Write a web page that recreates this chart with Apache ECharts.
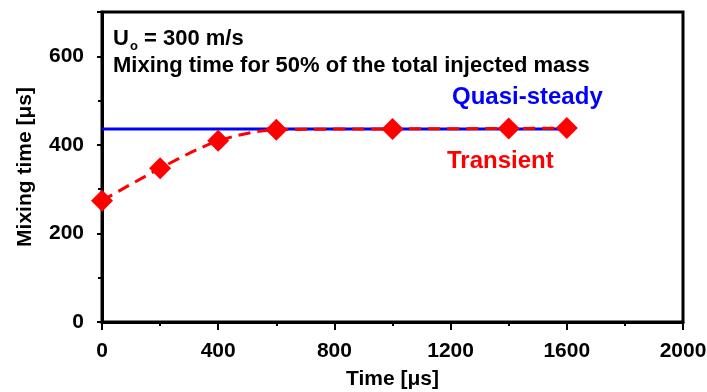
<!DOCTYPE html>
<html>
<head>
<meta charset="utf-8">
<script src="https://cdn.jsdelivr.net/npm/echarts@6/dist/echarts.min.js"></script>
<style>
  html, body { margin: 0; padding: 0; background: #fff; }
  #chart { width: 707px; height: 392px; }
</style>
</head>
<body>
<div id="chart"></div>
<script>
// Injection time samples [μs] and the mixing time reached at each one [μs]
const injectionTime = [0, 200, 400, 600, 1000, 1400, 1600];
const transientMixing = [274, 347, 409, 434, 436, 437, 438];

// Quasi-steady reference level, drawn across the same time span
const quasiSteadyTime = [0, 1600];
const quasiSteadyMixing = [436, 436];

// Axis ranges and tick steps
const xRange = [0, 2000];
const xStep = 400;
const yRange = [0, 700];
const yStep = 200;

const FONT = '"Liberation Sans", Arial, sans-serif';

const transientData = injectionTime.map((t, i) => [t, transientMixing[i]]);
const quasiData = quasiSteadyTime.map((t, i) => [t, quasiSteadyMixing[i]]);

const chart = echarts.init(document.getElementById('chart'), null, { renderer: 'canvas' });

chart.setOption({
  animation: false,
  backgroundColor: '#fff',
  textStyle: { fontFamily: FONT },
  grid: {
    left: 102, right: 24, top: 12, bottom: 70,
    outerBoundsMode: 'none',
    containLabel: false,
    show: true, borderColor: '#000', borderWidth: 3,
    backgroundColor: 'transparent'
  },
  xAxis: {
    type: 'value',
    min: xRange[0], max: xRange[1], interval: xStep,
    name: 'Time [μs]',
    nameLocation: 'middle',
    nameGap: 47,
    nameTextStyle: { fontFamily: FONT, fontWeight: 'bold', fontSize: 21, color: '#000' },
    axisLine: { show: true, onZero: false, lineStyle: { color: '#000', width: 3 } },
    axisTick: { show: true, inside: false, length: 8, lineStyle: { color: '#000', width: 2 } },
    minorTick: { show: true, splitNumber: 2, length: 4, lineStyle: { color: '#000', width: 2 } },
    axisLabel: {
      margin: 19, fontFamily: FONT, fontWeight: 'bold', fontSize: 21, color: '#000',
      formatter: v => String(v)
    },
    splitLine: { show: false }
  },
  yAxis: {
    type: 'value',
    min: yRange[0], max: yRange[1], interval: yStep,
    name: 'Mixing time [μs]',
    nameLocation: 'middle',
    nameGap: 66,
    nameRotate: 90,
    nameTextStyle: { fontFamily: FONT, fontWeight: 'bold', fontSize: 21, color: '#000' },
    axisLine: { show: true, onZero: false, lineStyle: { color: '#000', width: 3 } },
    axisTick: { show: true, inside: false, length: 5, lineStyle: { color: '#000', width: 2 } },
    minorTick: { show: true, splitNumber: 2, length: 4, lineStyle: { color: '#000', width: 2 } },
    axisLabel: {
      margin: 18, showMaxLabel: false, fontFamily: FONT, fontWeight: 'bold', fontSize: 21, color: '#000',
      formatter: v => String(v)
    },
    splitLine: { show: false }
  },
  series: [
    {
      name: 'Quasi-steady',
      type: 'line',
      data: quasiData,
      showSymbol: false,
      symbol: 'none',
      lineStyle: { color: '#0000ff', width: 3 },
      z: 2
    },
    {
      name: 'Transient',
      type: 'line',
      data: transientData,
      smooth: 0.3,
      symbol: 'diamond',
      symbolSize: 22,
      itemStyle: { color: '#ff0000' },
      lineStyle: { color: '#ff0000', width: 3, type: [12, 7] },
      z: 3
    }
  ],
  graphic: [
    {
      type: 'text', left: 113, top: 28,
      style: { text: 'U', font: 'bold 22px ' + FONT, fill: '#000' }
    },
    {
      type: 'text', left: 130, top: 40,
      style: { text: 'o', font: 'bold 13px ' + FONT, fill: '#000' }
    },
    {
      type: 'text', left: 144, top: 28,
      style: { text: '= 300 m/s', font: 'bold 22px ' + FONT, fill: '#000' }
    },
    {
      type: 'text', left: 113, top: 55,
      style: { text: 'Mixing time for 50% of the total injected mass', font: 'bold 22px ' + FONT, fill: '#000' }
    },
    {
      type: 'text', left: 452, top: 85,
      style: { text: 'Quasi-steady', font: 'bold 24px ' + FONT, fill: '#0000ff' }
    },
    {
      type: 'text', left: 447, top: 149,
      style: { text: 'Transient', font: 'bold 24px ' + FONT, fill: '#ff0000' }
    }
  ]
});
</script>
</body>
</html>
